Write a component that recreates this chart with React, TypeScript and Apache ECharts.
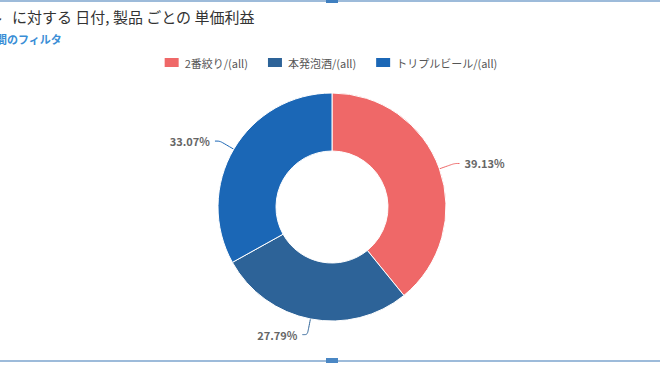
import React, { useEffect, useRef } from "react";
import * as echarts from "echarts";

const categories = ["2番絞り/(all)", "本発泡酒/(all)", "トリプルビール/(all)"];
const shares = [39.13, 27.79, 33.07];
const colors = ["#EF6868", "#2D6398", "#1B67B6"];
const titleHead = "ル";
const titleText = "に対する 日付, 製品 ごとの 単価利益";
const subtitleText = "間のフィルタ";

export default function App() {
  const ref = useRef<HTMLDivElement>(null);
  useEffect(() => {
    document.body.style.margin = "0";
    const chart = echarts.init(ref.current!, null, { renderer: "svg" });
    chart.setOption({
      animation: false,
      backgroundColor: "#ffffff",
      color: colors,
      textStyle: { fontFamily: "'Noto Sans CJK JP', 'Noto Sans', sans-serif" },
      legend: {
        top: 51,
        left: "center",
        itemWidth: 16,
        itemHeight: 11,
        itemGap: 18,
        icon: "rect",
        textStyle: { fontSize: 11, color: "#555555" },
        data: categories,
      },
      graphic: [
        { type: "rect", shape: { x: 0, y: 0, width: 660, height: 2 }, style: { fill: "#9DBBDA" } },
        { type: "rect", shape: { x: 0, y: 360, width: 660, height: 2 }, style: { fill: "#9DBBDA" } },
        { type: "rect", shape: { x: 326, y: 0, width: 12, height: 3 }, style: { fill: "#3F7FC0" } },
        { type: "rect", shape: { x: 326, y: 358, width: 12, height: 5 }, style: { fill: "#4A87C4" } },
        {
          type: "text",
          left: -13,
          top: 9,
          style: { text: titleHead, fontSize: 15, fill: "#333333", fontFamily: "'Noto Sans CJK JP', sans-serif" },
        },
        {
          type: "text",
          left: 12,
          top: 9,
          style: { text: titleText, fontSize: 15, fill: "#333333", fontFamily: "'Noto Sans CJK JP', sans-serif" },
        },
        {
          type: "text",
          left: -4,
          top: 33,
          style: { text: subtitleText, fontSize: 11, fontWeight: "bold", fill: "#3A8ED6", fontFamily: "'Noto Sans CJK JP', sans-serif" },
        },
      ],
      series: [
        {
          type: "pie",
          center: [332, 207],
          radius: [56, 114],
          startAngle: 90,
          clockwise: true,
          avoidLabelOverlap: true,
          itemStyle: { borderColor: "#ffffff", borderWidth: 1 },
          label: {
            show: true,
            formatter: (p: any) => p.value.toFixed(2) + "%",
            fontSize: 11,
            fontWeight: "bold",
            color: "#666666",
          },
          labelLine: { show: true, length: 16, length2: 5, smooth: true, lineStyle: { width: 1 } },
          data: categories.map((c, i) => ({ name: c, value: shares[i] })),
        },
      ],
    });
    return () => chart.dispose();
  }, []);
  return <div ref={ref} style={{ width: 660, height: 365 }} />;
}
